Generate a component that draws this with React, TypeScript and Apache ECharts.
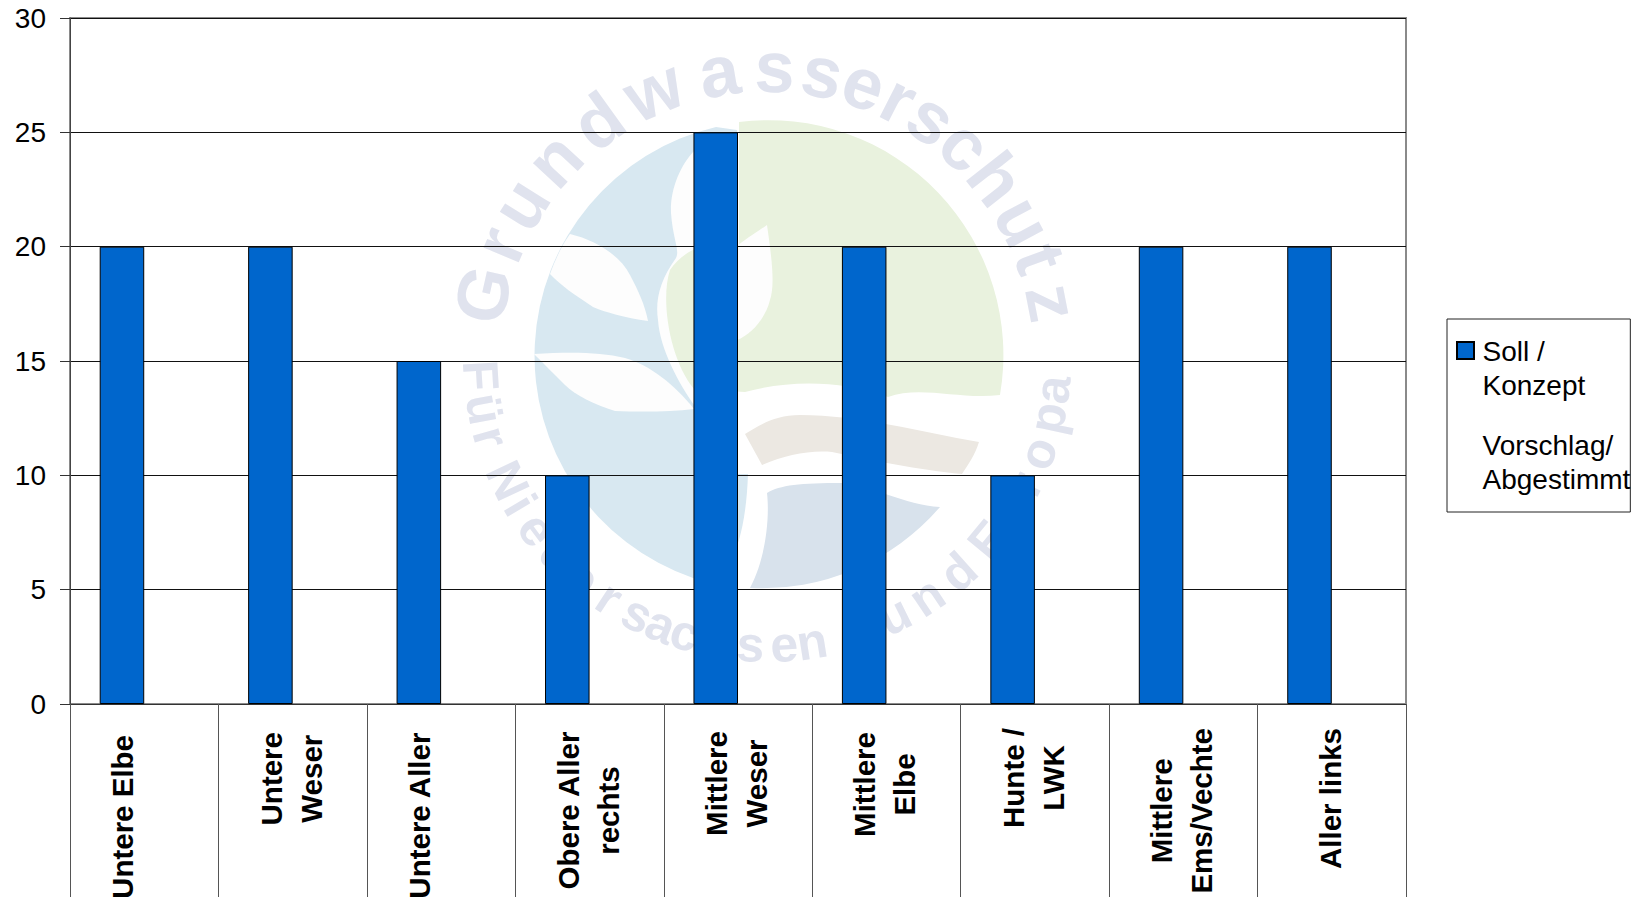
import React, { useEffect, useRef } from "react";
import * as echarts from "echarts";

const categories = [
  "Untere Elbe\n ",
  "Untere\nWeser",
  "Untere Aller\n ",
  "Obere Aller\nrechts",
  "Mittlere\nWeser",
  "Mittlere\nElbe",
  "Hunte /\nLWK",
  "Mittlere\nEms/Vechte",
  "Aller links",
];
const sollKonzept = [20, 20, 15, 10, 25, 20, 10, 20, 20];
const vorschlagAbgestimmt = [null, null, null, null, null, null, null, null, null];
const seriesNames = ["Soll /\nKonzept", "Vorschlag/\nAbgestimmt"];
const yMax = 30;
const yInterval = 5;
const arcTop = "Grundwasserschutz";
const arcTopAngles = [-77.4, -67, -58, -47, -35.5, -23, -9.5, 1.5, 11, 19.5, 27, 34.5, 43, 52, 62, 70, 79];
const arcBottom = "FürNiedersachsenundEuropa";
const arcBottomAngles = [86.5, 79.7, 74, 64.7, 59.2, 53.3, 46.6, 40, 33.3, 26.8, 21.7, 16.6, 9, 3.3, -3.4, -9, -26.3, -33.8, -41.8, -50.6, -57, -64, -70.6, -78, -83.7];
const labelInset = [7, 4, 4, 3, 3, 4, 0, 0, 0];

const FONT = '"Liberation Sans", Arial, sans-serif';
const LOGO: [string, string, string][] = [
  ["logoBlue", "#d8e8f1", "M716 127 A235 235 0 0 0 693 578 C720 590 745 560 748 474 L737 474 L737 130 Z"],
  ["logoStem", "#fdfdfd", "M695 150 C680 165 670 190 671 213 C673 240 680 250 676 258 C660 280 655 300 658 320 C660 350 680 385 694 405 Z"],
  ["logoGreen", "#e9f2de", "M739 122 A235 235 0 0 1 1000 395 C960 400 920 385 888 397 C840 380 790 380 745 392 L694 389 C670 360 660 300 670 270 C690 240 730 240 739 246 Z"],
  ["logoBrown", "#ece8e2", "M745 434 C760 425 775 415 800 415 C860 415 920 432 979 442 C975 455 968 465 962 474 C920 470 870 460 832 452 C810 450 785 455 762 465 Z"],
  ["logoNavy", "#d8e2ec", "M767 493 C780 485 800 483 843 483 C870 485 905 505 940 507 A235 235 0 0 1 750 588 C765 560 770 520 767 493 Z"],
  ["logoLeafA", "#fdfdfd", "M570 234 C595 240 620 255 630 275 C638 290 645 305 648 321 C625 318 605 312 593 307 C575 295 560 285 550 274 C555 260 562 245 570 234 Z"],
  ["logoLeafB", "#fdfdfd", "M534 354 C570 352 600 352 625 358 C650 365 675 385 694 409 C670 412 640 412 615 411 C595 405 575 395 565 385 C555 375 545 365 534 354 Z"],
  ["logoLeafC", "#fdfdfd", "M737 246 C750 236 760 230 767 225 C772 260 775 285 770 300 C765 320 750 335 737 340 Z"],
];
LOGO.forEach(([n, , d]) => echarts.graphic.registerShape(n, echarts.graphic.extendPath(d, {})));

const CX = 767;
const CY = 358;

function topLetters() {
  const font = `bold 72px ${FONT}`;
  return arcTop.split("").map((ch, i) => {
    const a = (arcTopAngles[i] * Math.PI) / 180;
    return {
      type: "text", z: -5, x: CX + 291 * Math.sin(a), y: CY - 291 * Math.cos(a), rotation: -a,
      style: { text: ch, fill: "#e0e3ee", font, align: "center", verticalAlign: "middle" },
    };
  });
}
function bottomLetters() {
  const font = `bold 50px ${FONT}`;
  return arcBottom.split("").map((ch, i) => {
    const a = (arcBottomAngles[i] * Math.PI) / 180;
    return {
      type: "text", z: -5, x: CX - 287 * Math.sin(a), y: CY + 287 * Math.cos(a), rotation: -a,
      style: { text: ch, fill: "#e0e3ee", font, align: "center", verticalAlign: "middle" },
    };
  });
}

const labelRich: Record<string, any> = {};
labelInset.forEach((inset) => {
  labelRich[`i${inset}`] = {
    fontFamily: FONT, fontWeight: "bold", fontSize: 29.5, lineHeight: 40, color: "#000", align: "center",
    padding: [0, inset, 3, 0],
  };
});

export default function App() {
  const ref = useRef<HTMLDivElement>(null);
  useEffect(() => {
    const chart = echarts.init(ref.current!, null, { renderer: "svg" });
    chart.setOption({
      animation: false,
      backgroundColor: "#fff",
      graphic: [
        ...LOGO.map(([n, fill]) => ({ type: n, z: -6, x: 0, y: 0, style: { fill } })),
        ...topLetters(),
        ...bottomLetters(),
      ],
      grid: {
        left: 70, top: 18, width: 1336, height: 686, show: true, borderColor: "#8a8a8a", borderWidth: 2,
        backgroundColor: "transparent", containLabel: false, outerBoundsMode: "none",
      },
      legend: {
        orient: "vertical",
        left: 1447,
        top: 319,
        data: seriesNames,
        icon: "path://M0 0H17V17H0ZM0 52L0 52",
        itemWidth: 24,
        itemHeight: 52,
        itemGap: 26,
        padding: [15, 0, 16, 9],
        borderColor: "#222",
        borderWidth: 1,
        selectedMode: false,
        textStyle: { fontFamily: FONT, fontSize: 28, lineHeight: 34, color: "#000" },
      },
      xAxis: {
        type: "category",
        data: categories,
        axisLine: { show: true, lineStyle: { color: "#333", width: 1 } },
        axisTick: { show: true, length: 194, lineStyle: { color: "#555", width: 1 } },
        axisLabel: {
          interval: 0,
          rotate: 90,
          margin: 24,
          hideOverlap: false,
          formatter: (v: string, i: number) => v.split("\n").map((l) => `{i${labelInset[i]}|${l}}`).join("\n"),
          rich: labelRich,
        },
      },
      yAxis: {
        type: "value",
        min: 0,
        max: yMax,
        interval: yInterval,
        axisLine: { show: true, lineStyle: { color: "#444", width: 1 } },
        axisTick: { show: true, length: 10, lineStyle: { color: "#333" } },
        axisLabel: { margin: 24, fontFamily: FONT, fontSize: 28, color: "#000" },
        splitLine: { show: true, lineStyle: { color: "#111", width: 1 } },
      },
      series: [
        {
          name: seriesNames[0], type: "bar", data: sollKonzept, barGap: 0, barCategoryGap: "40%",
          itemStyle: { color: "#0066cc", borderColor: "#000", borderWidth: 1 },
        },
        {
          name: seriesNames[1], type: "bar", data: vorschlagAbgestimmt,
          itemStyle: { color: "transparent", borderWidth: 0 },
        },
      ],
    });
    return () => chart.dispose();
  }, []);
  return <div ref={ref} style={{ position: "fixed", left: 0, top: 0, width: 1639, height: 897, overflow: "hidden" }} />;
}
